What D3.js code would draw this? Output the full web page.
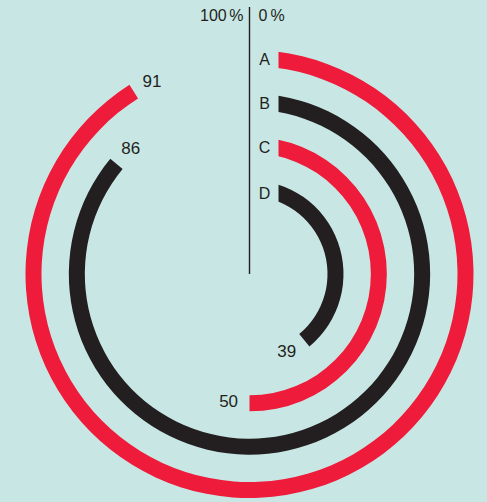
<!DOCTYPE html>
<html>
<head>
<meta charset="utf-8">
<script src="https://cdn.jsdelivr.net/npm/d3@7"></script>
<style>
  html, body { margin: 0; padding: 0; background: #c8e7e4; }
  svg { display: block; }
  text { font-family: "Liberation Sans", Arial, sans-serif; fill: #231f20; }
</style>
</head>
<body>
<svg id="chart" width="487" height="502"></svg>
<script>
// ---- data ----
const categories = ["A", "B", "C", "D"];
const values = [91, 86, 50, 39];
const seriesColors = ["#ee1b3b", "#231f20", "#ee1b3b", "#231f20"];
const scaleLabels = ["100", "0"];

// ---- layout ----
const W = 487, H = 502;
const cx = 249.5, cy = 274;
const ringWidth = 16;
const gapX = 29; // label strip between axis line and arc starts

const svg = d3.select("#chart");
svg.append("rect").attr("width", W).attr("height", H).attr("fill", "#c8e7e4");

const angle = d3.scaleLinear().domain([0, 100]).range([0, 2 * Math.PI]);
const radius = d3.scalePoint().domain(categories).range([216, 86]);

// clip the strip between the axis and the arc starts
const defs = svg.append("defs");
defs.append("clipPath").attr("id", "strip")
  .append("path")
  .attr("d", `M0,0H${cx}V${cy}H${cx + gapX}V0H${W}V${H}H0Z`);

const g = svg.append("g").attr("transform", `translate(${cx},${cy})`);

const arc = d3.arc();
const rings = categories.map((c, i) => ({ cat: c, value: values[i], color: seriesColors[i] }));

svg.append("g").attr("clip-path", "url(#strip)")
  .append("g").attr("transform", `translate(${cx},${cy})`)
  .selectAll("path")
  .data(rings)
  .join("path")
  .attr("d", d => arc({
    innerRadius: radius(d.cat) - ringWidth / 2,
    outerRadius: radius(d.cat) + ringWidth / 2,
    startAngle: 0,
    endAngle: angle(d.value)
  }))
  .attr("fill", d => d.color);

// axis line
svg.append("line")
  .attr("x1", cx).attr("x2", cx)
  .attr("y1", 7).attr("y2", cy)
  .attr("stroke", "#231f20").attr("stroke-width", 1.4);

// scale labels
const t100 = svg.append("text").attr("x", cx - 6).attr("y", 21)
  .attr("text-anchor", "end").style("font-size", "16px");
t100.append("tspan").text(scaleLabels[0]);
t100.append("tspan").attr("dx", 2.5).text("%");
const t0 = svg.append("text").attr("x", cx + 9).attr("y", 21)
  .attr("text-anchor", "start").style("font-size", "16px");
t0.append("tspan").text(scaleLabels[1]);
t0.append("tspan").attr("dx", 3).text("%");

// category letters
svg.selectAll("text.cat")
  .data(rings)
  .join("text")
  .attr("class", "cat")
  .attr("x", cx + 15)
  .attr("y", d => cy - Math.sqrt(radius(d.cat) ** 2 - gapX * gapX))
  .attr("text-anchor", "middle")
  .attr("dominant-baseline", "central")
  .style("font-size", "16px")
  .text(d => d.cat);

// value labels, just past the end of each arc
g.selectAll("text.val")
  .data(rings)
  .join("text")
  .attr("class", "val")
  .attr("x", d => {
    const r = radius(d.cat);
    const a = angle(d.value) + 21 / r;
    return r * Math.sin(a);
  })
  .attr("y", d => {
    const r = radius(d.cat);
    const a = angle(d.value) + 21 / r;
    return -r * Math.cos(a);
  })
  .attr("text-anchor", "middle")
  .attr("dominant-baseline", "central")
  .style("font-size", "17px")
  .text(d => d.value);
</script>
</body>
</html>
